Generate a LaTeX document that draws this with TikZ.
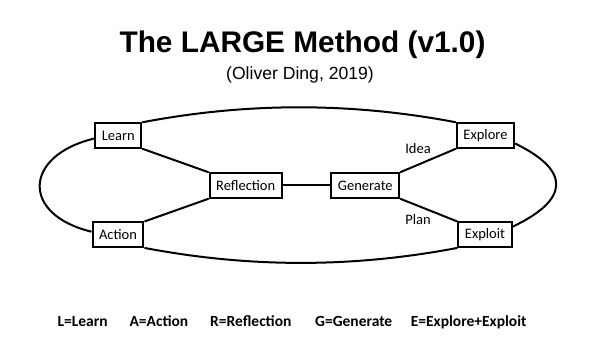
\documentclass[tikz,border=0pt]{standalone}
\usepackage{fontspec}
\setmainfont{Carlito}
\newfontfamily\arialfont{Liberation Sans}
\usetikzlibrary{positioning}

\begin{document}
\begin{tikzpicture}[x=1pt, y=1pt,
	every node/.style={font=\fontsize{14.5}{16}\selectfont},
	stagebox/.style={draw, line width=2pt, minimum height=24.4pt, inner xsep=6.5pt, inner ysep=0pt},
	link/.style={line width=2pt},
	legend/.style={anchor=base west, font=\fontsize{15.5}{17}\selectfont\bfseries}]
	\useasboundingbox (0,0) rectangle (600,340);
	\node[anchor=base, font=\fontsize{29.8}{32}\selectfont\arialfont\bfseries] (title) at (302.5,287.3) {The LARGE Method (v1.0)};
	\node[anchor=base, font=\fontsize{17.6}{19}\selectfont\arialfont] (author) at (300,260.7) {(Oliver Ding, 2019)};
	\node[stagebox] (learn) at (118.3,204.5) {Learn};
	\node[stagebox] (action) at (118,105.3) {Action};
	\node[stagebox] (reflection) at (245.7,154.5) {Reflection};
	\node[stagebox] (generate) at (365.3,154.5) {Generate};
	\node[stagebox] (explore) at (485.5,204.5) {Explore};
	\node[stagebox] (exploit) at (485,105.3) {Exploit};
	\node (idea) at (418,191) {Idea};
	\node (plan) at (418,120) {Plan};
	\draw[link] (learn.south east) -- (reflection.north west);
	\draw[link] (action.north east) -- (reflection.south west);
	\draw[link] (reflection.east) -- (generate.west);
	\draw[link] (generate.north east) -- (explore.south west);
	\draw[link] (generate.south east) -- (exploit.north west);
	\draw[link] (learn.north east) .. controls +(105,20) and +(-105,20) .. (explore.north west);
	\draw[link] (action.south east) .. controls +(105,-20) and +(-105,-20) .. (exploit.south west);
	\draw[link] ([yshift=-3pt]learn.west) .. controls +(-71,-17) and +(-71,17) .. ([yshift=3pt]action.west);
	\draw[link] ([yshift=-8pt]explore.east) .. controls +(56,-27) and +(57,27) .. ([yshift=8pt]exploit.east);
	\node[legend] (keyl) at (54,13.3) {L=Learn};
	\node[legend] (keya) at (126,13.3) {A=Action};
	\node[legend] (keyr) at (206.7,13.3) {R=Reflection};
	\node[legend] (keyg) at (311.7,13.3) {G=Generate};
	\node[legend] (keye) at (407.3,13.3) {E=Explore+Exploit};
\end{tikzpicture}
\end{document}
